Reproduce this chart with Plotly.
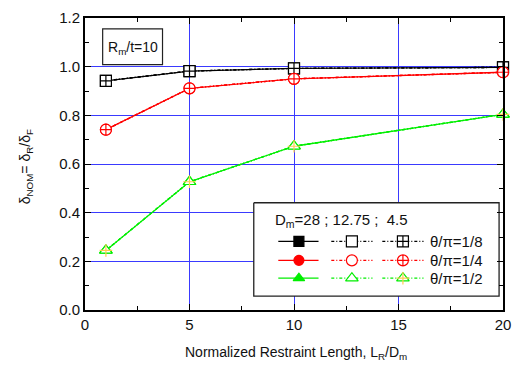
import plotly.graph_objects as go

# ---- data ----
lr_dm = [1, 5, 10, 20]
diameters = ["28", "12.75", "4.5"]
theta_labels = ["θ/π=1/8", "θ/π=1/4", "θ/π=1/2"]
delta_1_8 = [0.942, 0.982, 0.993, 0.997]
delta_1_4 = [0.741, 0.911, 0.950, 0.977]
delta_1_2 = [0.245, 0.527, 0.673, 0.804]
series_values = [delta_1_8, delta_1_4, delta_1_2]
x_ticks = [0, 5, 10, 15, 20]
y_ticks = [0.0, 0.2, 0.4, 0.6, 0.8, 1.0, 1.2]
y_tick_text = ["0.0", "0.2", "0.4", "0.6", "0.8", "1.0", "1.2"]

# ---- styles ----
FONT = "Liberation Sans, Arial, sans-serif"
colors = ["#000000", "#ff0000", "#00ee00"]
symbols = [
    ["square", "square", "square-cross"],
    ["circle", "circle", "circle-cross"],
    ["triangle-up", "triangle-up", "triangle-up"],
]
dashes = ["solid", "3px,2px,1px,2px", "3px,2px,1px,2px"]
GRID = "#3a3aff"


def marker_style(i, j):
    fill = colors[i] if j == 0 else "white"
    return dict(symbol=symbols[i][j], size=10 if j == 0 else 11, color=fill,
                line=dict(color=colors[i], width=1.2))


fig = go.Figure()

# data traces
for i, vals in enumerate(series_values):
    for j in range(3):
        fig.add_trace(go.Scatter(
            x=lr_dm, y=vals, mode="lines+markers",
            line=dict(color=colors[i], width=1.3, dash=dashes[j]),
            marker=marker_style(i, j),
            showlegend=False, cliponaxis=False))
        if i == 2 and j == 2:
            fig.add_trace(go.Scatter(
                x=lr_dm, y=vals, mode="markers",
                marker=dict(symbol="cross-thin-open", size=9,
                            line=dict(color=colors[i], width=1.2)),
                showlegend=False, cliponaxis=False))

# ---- manual legend (pixel coordinates on overlay axes) ----
L, R, T, B = 257, 507, 202, 296
fig.add_trace(go.Scatter(
    x=[L, R, R, L, L], y=[T, T, B, B, T], mode="lines", fill="toself",
    fillcolor="white", line=dict(color="#222222", width=1.3),
    xaxis="x2", yaxis="y2", showlegend=False, hoverinfo="skip"))

row_y = [241, 260, 278]
cols = [(282, 323, 303), (336, 378, 357), (388, 430, 409)]
for i in range(3):
    for j, (x0, x1, xm) in enumerate(cols):
        fig.add_trace(go.Scatter(
            x=[x0, x1], y=[row_y[i], row_y[i]], mode="lines",
            line=dict(color=colors[i], width=1.2, dash=dashes[j]),
            xaxis="x2", yaxis="y2", showlegend=False, hoverinfo="skip"))
        fig.add_trace(go.Scatter(
            x=[xm], y=[row_y[i]], mode="markers",
            marker=marker_style(i, j),
            xaxis="x2", yaxis="y2", showlegend=False, hoverinfo="skip"))
        if i == 2 and j == 2:
            fig.add_trace(go.Scatter(
                x=[xm], y=[row_y[i]], mode="markers",
                marker=dict(symbol="cross-thin-open", size=9,
                            line=dict(color=colors[i], width=1.2)),
                xaxis="x2", yaxis="y2", showlegend=False, hoverinfo="skip"))
    fig.add_annotation(x=435, y=row_y[i], xref="x2", yref="y2",
                       text=theta_labels[i], showarrow=False, xanchor="left",
                       yanchor="middle", font=dict(family=FONT, size=15, color="#111"))

fig.add_annotation(x=277, y=220, xref="x2", yref="y2",
                   text="D<sub>m</sub>=" + diameters[0] + " ; " + diameters[1] + " ;  " + diameters[2],
                   showarrow=False, xanchor="left", yanchor="middle",
                   font=dict(family=FONT, size=15, color="#111"))

# R_m/t box
fig.add_shape(type="rect", x0=103, x1=164, y0=27, y1=63, xref="x2", yref="y2",
              line=dict(color="#222", width=1.2), fillcolor="white", layer="above")
fig.add_annotation(x=133.5, y=46, xref="x2", yref="y2",
                   text="R<sub>m</sub>/t=10", showarrow=False,
                   font=dict(family=FONT, size=14, color="#111"))

# axis titles
fig.add_annotation(x=(300 - 85) / 426, y=(310 - 342) / 294, xref="paper", yref="paper",
                   text="Normalized Restraint Length, L<sub>R</sub>/D<sub>m</sub>",
                   showarrow=False, xanchor="center", yanchor="top",
                   font=dict(family=FONT, size=14, color="#111"))
fig.add_annotation(x=(14 - 85) / 426, y=(310 - 166) / 294, xref="paper", yref="paper",
                   text="δ<sub>NOM</sub>= δ<sub>R</sub>/δ<sub>F</sub>", textangle=-90,
                   showarrow=False, xanchor="left", yanchor="middle",
                   font=dict(family=FONT, size=14, color="#111"))

axis_common = dict(showline=True, linecolor="black", linewidth=2, mirror="allticks",
                   ticks="inside", ticklen=6, tickwidth=1.2, tickcolor="black",
                   showgrid=True, gridcolor=GRID, gridwidth=1.2, zeroline=False,
                   tickfont=dict(family=FONT, size=15, color="#111"))

fig.update_layout(
    width=520, height=372, margin=dict(l=85, r=9, t=16, b=62),
    paper_bgcolor="white", plot_bgcolor="white",
    xaxis=dict(range=[0, 20], tickvals=x_ticks,
               minor=dict(ticks="inside", dtick=2.5, ticklen=4, tickcolor="black", showgrid=False),
               **axis_common),
    yaxis=dict(range=[0, 1.2], tickvals=y_ticks, ticktext=y_tick_text,
               minor=dict(ticks="inside", dtick=0.1, ticklen=4, tickcolor="black", showgrid=False),
               **axis_common),
    xaxis2=dict(overlaying="x", anchor="y2", range=[85, 511], visible=False, fixedrange=True),
    yaxis2=dict(overlaying="y", anchor="x2", range=[310, 16], visible=False, fixedrange=True),
)

fig.write_html("out.html")
